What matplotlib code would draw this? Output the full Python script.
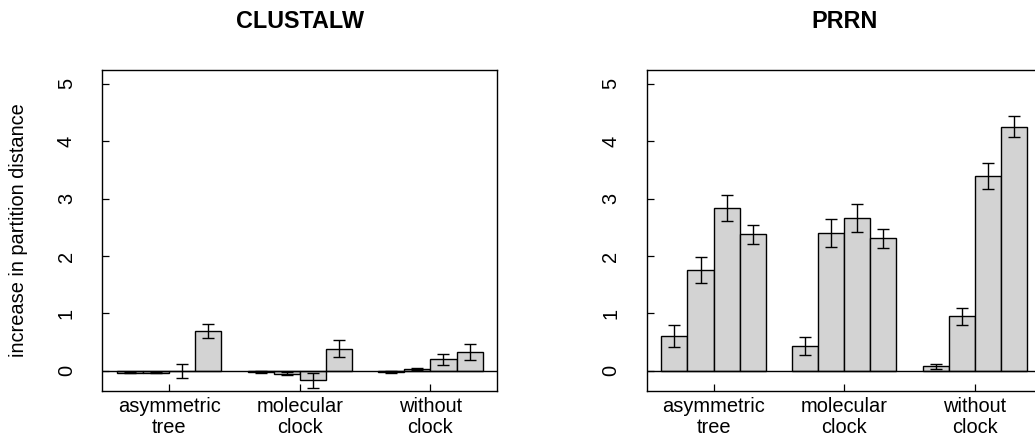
import matplotlib
matplotlib.use("Agg")
import matplotlib.pyplot as plt
import numpy as np

plt.rcParams["font.family"] = ["Liberation Sans", "DejaVu Sans"]

# ── data ─────────────────────────────────────────────────────────────
groups = ["asymmetric\ntree", "molecular\nclock", "without\nclock"]
titles = ["CLUSTALW", "PRRN"]

clustal_vals = [[-0.03, -0.03, 0.005, 0.70],
                [-0.02, -0.05, -0.165, 0.39],
                [-0.02, 0.03, 0.20, 0.325]]
clustal_err = [[0.01, 0.01, 0.12, 0.125],
               [0.01, 0.03, 0.13, 0.15],
               [0.01, 0.02, 0.09, 0.135]]

prrn_vals = [[0.605, 1.756, 2.837, 2.378],
             [0.442, 2.407, 2.663, 2.308],
             [0.081, 0.953, 3.395, 4.256]]
prrn_err = [[0.186, 0.224, 0.23, 0.17],
            [0.157, 0.244, 0.244, 0.163],
            [0.04, 0.148, 0.22, 0.18]]

yticks = [0, 1, 2, 3, 4, 5]

# ── layout (R barplot style, beside=TRUE, space=c(0,1)) ──────────────
W, H = 1035, 437
fig = plt.figure(figsize=(W / 100, H / 100), dpi=100)
fig.patch.set_facecolor("white")

ax_w = 395 / W
ax_h = (391 - 69.5) / H
ax_b = (H - 391) / H
lefts = [102.3 / W, 646.7 / W]

FS = 14.4
n_bars = 4


def draw(ax, vals, errs, title):
    vals = np.asarray(vals)
    errs = np.asarray(errs)
    centers = []
    for g in range(vals.shape[0]):
        x = 1 + g * (n_bars + 1) + np.arange(n_bars) + 0.5
        ax.bar(x, vals[g], width=1.0, color="#d3d3d3",
               edgecolor="black", linewidth=1.0, zorder=2)
        ax.errorbar(x, vals[g], yerr=errs[g], fmt="none", ecolor="black",
                    elinewidth=1.0, capsize=4.1, capthick=1.0, zorder=3)
        centers.append(x.mean())
    ax.axhline(0, color="black", linewidth=1.0, zorder=4)

    ax.set_xlim(0.44, 15.56)
    ax.set_ylim(-0.35, 5.25)
    ax.set_xticks(centers)
    ax.set_xticklabels(groups, fontsize=FS, linespacing=1.15)
    ax.set_yticks(yticks)
    ax.set_yticklabels([str(t) for t in yticks], fontsize=FS,
                       rotation=90, va="center")
    ax.tick_params(axis="both", direction="in", length=5, width=0.9)
    ax.tick_params(axis="x", pad=4)
    ax.tick_params(axis="y", pad=19)
    for s in ax.spines.values():
        s.set_linewidth(1.0)
    ax.set_title(title, fontsize=16.8, fontweight="bold", pad=29.6)


for i, (vals, errs) in enumerate([(clustal_vals, clustal_err),
                                  (prrn_vals, prrn_err)]):
    ax = fig.add_axes([lefts[i], ax_b, ax_w, ax_h])
    draw(ax, vals, errs, titles[i])
    if i == 0:
        ax.set_ylabel("increase in partition distance", fontsize=FS,
                      va="center", ha="center")
        ax.yaxis.set_label_coords((18 - 102.3) / 395, 0.5)

fig.savefig("out.png", dpi=100, facecolor="white")
plt.close(fig)
